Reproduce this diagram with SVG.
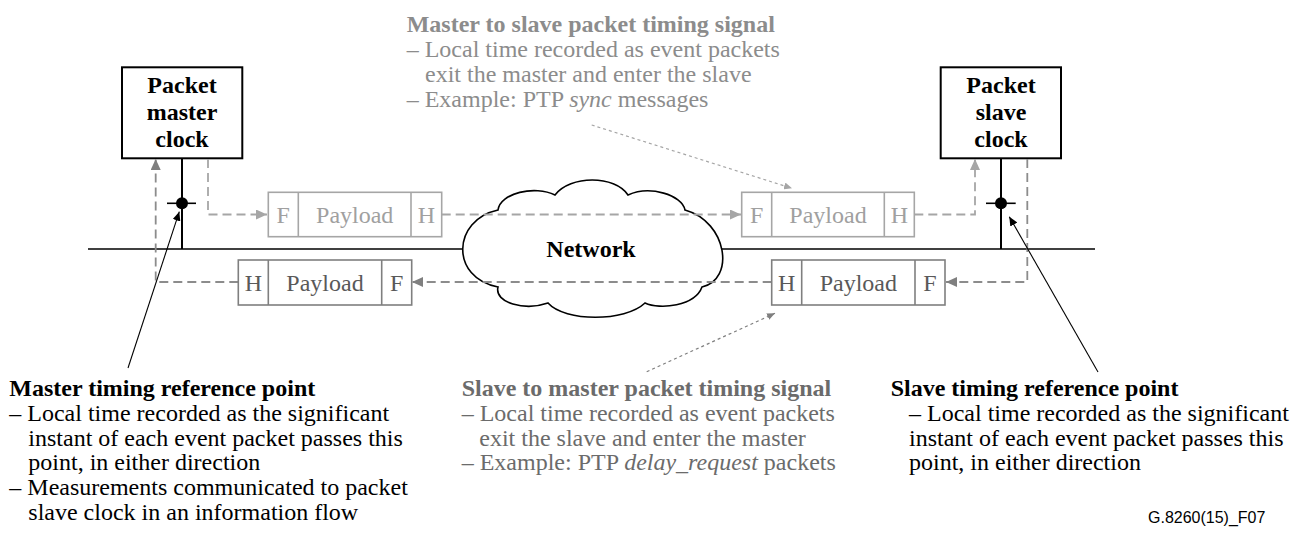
<svg xmlns="http://www.w3.org/2000/svg" width="1293" height="533" viewBox="0 0 1293 533">
<style>
  .t{font-family:"Liberation Serif","Times New Roman",serif;font-size:24px}
  .b{font-weight:bold}
  .c{text-anchor:middle}
  .clk{fill:#fff;stroke:#000;stroke-width:2}
  .pktA{fill:#fff;stroke:#a6a6a6;stroke-width:1.6}
  .pktB{fill:#fff;stroke:#7f7f7f;stroke-width:1.6}
  .txtA{fill:#a0a0a0}
  .txtB{fill:#595959}
  .flowA{fill:none;stroke:#a6a6a6;stroke-width:1.8;stroke-dasharray:9,5}
  .flowB{fill:none;stroke:#8c8c8c;stroke-width:1.8;stroke-dasharray:9,5}
  .ptr{fill:none;stroke:#000;stroke-width:1.1}
  .dotA{fill:none;stroke:#a6a6a6;stroke-width:1.2;stroke-dasharray:3,3}
  .dotB{fill:none;stroke:#7f7f7f;stroke-width:1.2;stroke-dasharray:3,3}
</style>
<defs>
  <marker id="arrA" markerUnits="userSpaceOnUse" markerWidth="12" markerHeight="10" refX="11" refY="5" orient="auto">
    <path d="M0,0 L11,5 L0,10 z" fill="#a6a6a6" stroke="none"/>
  </marker>
  <marker id="arrB" markerUnits="userSpaceOnUse" markerWidth="12" markerHeight="10" refX="11" refY="5" orient="auto">
    <path d="M0,0 L11,5 L0,10 z" fill="#7f7f7f" stroke="none"/>
  </marker>
  <marker id="arrK" markerUnits="userSpaceOnUse" markerWidth="10" markerHeight="8" refX="9" refY="4" orient="auto">
    <path d="M0,0 L9,4 L0,8 z" fill="#000" stroke="none"/>
  </marker>
  <marker id="arrSA" markerUnits="userSpaceOnUse" markerWidth="9" markerHeight="7" refX="8" refY="3.5" orient="auto">
    <path d="M0,0 L8,3.5 L0,7 z" fill="#a6a6a6" stroke="none"/>
  </marker>
  <marker id="arrSB" markerUnits="userSpaceOnUse" markerWidth="9" markerHeight="7" refX="8" refY="3.5" orient="auto">
    <path d="M0,0 L8,3.5 L0,7 z" fill="#7f7f7f" stroke="none"/>
  </marker>
</defs>
<rect width="1293" height="533" fill="#fff"/>

<!-- network line -->
<g id="network-line">
  <line x1="88" y1="249" x2="1095" y2="249" stroke="#000" stroke-width="1.6"/>
</g>

<!-- cloud -->
<g id="network">
  <path d="M498,210 C500,193 535,185 555,195 C570,175 615,175 628,195 C650,185 682,195 685,210 C728,222 735,280 702,287 C695,306 660,310 645,303 C625,322 565,322 548,303 C525,311 494,303 498,287 C450,278 452,220 498,210 Z" fill="#fff" stroke="#000" stroke-width="1.6"/>
  <text class="t b c" x="591" y="256.7">Network</text>
</g>

<!-- master clock -->
<g id="master-clock">
  <line x1="182" y1="158" x2="182" y2="249" stroke="#000" stroke-width="2"/>
  <line x1="167" y1="203.3" x2="196" y2="203.3" stroke="#000" stroke-width="1.6"/>
  <circle cx="182" cy="203.3" r="6" fill="#000"/>
  <rect class="clk" x="122" y="67.3" width="120.3" height="91"/>
  <text class="t b c" x="182" y="93.3">Packet</text>
  <text class="t b c" x="182" y="120">master</text>
  <text class="t b c" x="182" y="146.5">clock</text>
</g>

<!-- slave clock -->
<g id="slave-clock">
  <line x1="1001" y1="158" x2="1001" y2="249" stroke="#000" stroke-width="2"/>
  <line x1="986" y1="203.3" x2="1015.7" y2="203.3" stroke="#000" stroke-width="1.6"/>
  <circle cx="1001" cy="203.3" r="6" fill="#000"/>
  <rect class="clk" x="940.7" y="67.3" width="120.3" height="91"/>
  <text class="t b c" x="1001" y="93.3">Packet</text>
  <text class="t b c" x="1001" y="120">slave</text>
  <text class="t b c" x="1001" y="146.5">clock</text>
</g>

<!-- connectors -->
<g id="connectors">
  <path class="flowA" d="M208,159 V214.5 H267" marker-end="url(#arrA)"/>
  <path class="flowA" d="M441.7,214.5 H741" marker-end="url(#arrA)"/>
  <path class="flowA" d="M914.3,214.5 H975 V159" marker-end="url(#arrA)"/>
  <path class="flowB" d="M1027.3,159 V282 H946" marker-end="url(#arrB)"/>
  <path class="flowB" d="M771.7,282 H412" marker-end="url(#arrB)"/>
  <path class="flowB" d="M238.3,282 H155.7 V159" marker-end="url(#arrB)"/>
  <path class="dotA" d="M591.7,125 L792,188.3" marker-end="url(#arrSA)"/>
  <path class="dotB" d="M646.7,371.7 L775,313.3" marker-end="url(#arrSB)"/>
  <path class="ptr" d="M128,368 L179.3,211.7" marker-end="url(#arrK)"/>
  <path class="ptr" d="M1098,372 L1009.3,216.7" marker-end="url(#arrK)"/>
</g>

<!-- packets master to slave -->
<g id="packet-ms-1">
  <rect class="pktA" x="268.3" y="192.3" width="173.4" height="44.4"/>
  <line class="pktA" x1="298.3" y1="192.3" x2="298.3" y2="236.7"/>
  <line class="pktA" x1="411" y1="192.3" x2="411" y2="236.7"/>
  <text class="t c txtA" x="283.3" y="222.5">F</text>
  <text class="t c txtA" x="354.7" y="222.5">Payload</text>
  <text class="t c txtA" x="426.3" y="222.5">H</text>
</g>
<g id="packet-ms-2">
  <rect class="pktA" x="741.7" y="192.3" width="172.6" height="44.4"/>
  <line class="pktA" x1="771.7" y1="192.3" x2="771.7" y2="236.7"/>
  <line class="pktA" x1="884.3" y1="192.3" x2="884.3" y2="236.7"/>
  <text class="t c txtA" x="756.7" y="222.5">F</text>
  <text class="t c txtA" x="828" y="222.5">Payload</text>
  <text class="t c txtA" x="899.3" y="222.5">H</text>
</g>

<!-- packets slave to master -->
<g id="packet-sm-1">
  <rect class="pktB" x="238.3" y="260" width="173.4" height="45"/>
  <line class="pktB" x1="268.3" y1="260" x2="268.3" y2="305"/>
  <line class="pktB" x1="381.7" y1="260" x2="381.7" y2="305"/>
  <text class="t c txtB" x="253.3" y="290.5">H</text>
  <text class="t c txtB" x="325" y="290.5">Payload</text>
  <text class="t c txtB" x="396.7" y="290.5">F</text>
</g>
<g id="packet-sm-2">
  <rect class="pktB" x="771.7" y="260" width="173.3" height="45"/>
  <line class="pktB" x1="801.7" y1="260" x2="801.7" y2="305"/>
  <line class="pktB" x1="915" y1="260" x2="915" y2="305"/>
  <text class="t c txtB" x="786.7" y="290.5">H</text>
  <text class="t c txtB" x="858.3" y="290.5">Payload</text>
  <text class="t c txtB" x="930" y="290.5">F</text>
</g>

<!-- labels -->
<g id="label-ms" fill="#8c8c8c">
  <text class="t b" x="406.7" y="32">Master to slave packet timing signal</text>
  <text class="t" x="406.7" y="57">– Local time recorded as event packets</text>
  <text class="t" x="425" y="82">exit the master and enter the slave</text>
  <text class="t" x="406.7" y="107">– Example: PTP <tspan font-style="italic">sync</tspan> messages</text>
</g>
<g id="label-sm" fill="#6b6b6b">
  <text class="t b" x="461.7" y="396">Slave to master packet timing signal</text>
  <text class="t" x="461.7" y="420.8">– Local time recorded as event packets</text>
  <text class="t" x="479.3" y="445.6">exit the slave and enter the master</text>
  <text class="t" x="461.7" y="470.4">– Example: PTP <tspan font-style="italic">delay_request</tspan> packets</text>
</g>
<g id="label-master-ref" fill="#000">
  <text class="t b" x="9.3" y="396">Master timing reference point</text>
  <text class="t" x="9.3" y="420.8">– Local time recorded as the significant</text>
  <text class="t" x="28.3" y="445.6">instant of each event packet passes this</text>
  <text class="t" x="28.3" y="470.4">point, in either direction</text>
  <text class="t" x="9.3" y="495.2">– Measurements communicated to packet</text>
  <text class="t" x="28.3" y="520">slave clock in an information flow</text>
</g>
<g id="label-slave-ref" fill="#000">
  <text class="t b" x="890.7" y="396">Slave timing reference point</text>
  <text class="t" x="909" y="420.8">– Local time recorded as the significant</text>
  <text class="t" x="909" y="445.6">instant of each event packet passes this</text>
  <text class="t" x="909" y="470.4">point, in either direction</text>
</g>
<g id="figure-id">
  <text x="1148" y="523" font-family="Liberation Sans, Arial, sans-serif" font-size="16" fill="#000">G.8260(15)_F07</text>
</g>
</svg>
